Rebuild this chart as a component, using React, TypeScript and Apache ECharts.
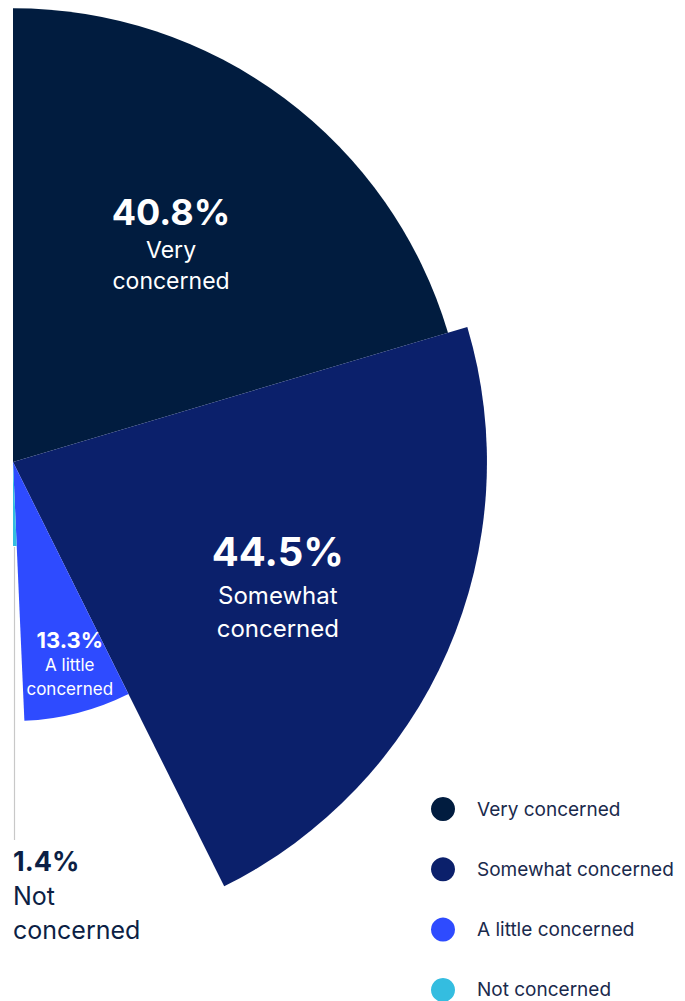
import React, { useEffect, useRef } from 'react';
import * as echarts from 'echarts';

const categories = ['Very concerned', 'Somewhat concerned', 'A little concerned', 'Not concerned'];
const labelLines = [
  ['Very', 'concerned'],
  ['Somewhat', 'concerned'],
  ['A little', 'concerned'],
  ['Not', 'concerned'],
];
const values = [40.8, 44.5, 13.3, 1.4];
const colors = ['#011c3f', '#0b206b', '#2e4bff', '#34bde0'];

// layout / style settings
const CX = 13;
const CY = 462;
const RADIUS_SCALE = 71.05; // radius = scale * sqrt(value)
const labelRadiusRatio = [0.595, 0.616, 0.81];
const labelAngleShift = [0.9, -1.4, 1.2];
const pctSize = [36, 40, 22, 27];
const pctLH = [44, 54, 25, 36];
const nameSize = [23, 24, 17, 25];
const nameLH = [31, 33, 24, 34];
const FONT = 'Inter, "Noto Sans", sans-serif';

export default function App() {
  const ref = useRef<HTMLDivElement>(null);
  useEffect(() => {
    if (!ref.current) return;
    const chart = echarts.init(ref.current, undefined, { renderer: 'svg' });
    const total = values.reduce((a, b) => a + b, 0);
    let cum = 0;
    const series = values.map((v, i) => {
      const start = 90 - (180 * cum) / total;
      const end = start - (180 * v) / total;
      cum += v;
      const r = RADIUS_SCALE * Math.sqrt(v);
      const mid = ((start + end) / 2) * (Math.PI / 180);
      const isOutside = i === 3;
      const labelColor = isOutside ? '#0c1f45' : '#ffffff';
      const pct = v.toFixed(1) + '%';
      return {
        type: 'pie',
        name: categories[i],
        center: [CX, CY],
        radius: [0, r],
        startAngle: start,
        endAngle: end,
        clockwise: true,
        silent: true,
        avoidLabelOverlap: false,
        itemStyle: { color: colors[i] },
        label: {
          show: true,
          position: 'inside',
          color: labelColor,
          fontFamily: FONT,
          formatter: `{p|${pct}}\n{n|${labelLines[i][0]}}\n{n|${labelLines[i][1]}}`,
          rich: {
            p: {
              fontFamily: FONT,
              fontSize: pctSize[i],
              fontWeight: 'bold',
              lineHeight: pctLH[i],
              color: labelColor,
              align: isOutside ? 'left' : 'center',
            },
            n: {
              fontFamily: FONT,
              fontSize: nameSize[i],
              lineHeight: nameLH[i],
              color: labelColor,
              align: isOutside ? 'left' : 'center',
            },
          },
        },
        labelLine: { show: false },
        labelLayout: () => {
          if (isOutside) {
            return { x: CX, y: 843, align: 'left', verticalAlign: 'top' };
          }
          const a = mid + (labelAngleShift[i] * Math.PI) / 180;
          const d = labelRadiusRatio[i] * r;
          return {
            x: CX + d * Math.cos(a),
            y: CY - d * Math.sin(a),
            align: 'center',
            verticalAlign: 'middle',
          };
        },
        data: [{ name: categories[i], value: v }],
      };
    });

    chart.setOption({
      animation: false,
      legend: {
        orient: 'vertical',
        left: 431,
        top: 797,
        height: 240,
        padding: 0,
        icon: 'circle',
        itemWidth: 24,
        itemHeight: 24,
        itemGap: 36.3,
        selectedMode: false,
        data: categories,
        textStyle: {
          fontFamily: FONT,
          fontSize: 19,
          color: '#1a2a4c',
          padding: [0, 0, 0, 17],
        },
      },
      graphic: [
        {
          type: 'line',
          shape: { x1: 14.5, y1: 547, x2: 14.5, y2: 840 },
          style: { stroke: '#c8c8c8', lineWidth: 1.2 },
          silent: true,
        },
      ],
      series,
    });
    return () => chart.dispose();
  }, []);
  return (
    <div
      ref={ref}
      style={{ position: 'absolute', left: 0, top: 0, width: 685, height: 1001 }}
    />
  );
}
